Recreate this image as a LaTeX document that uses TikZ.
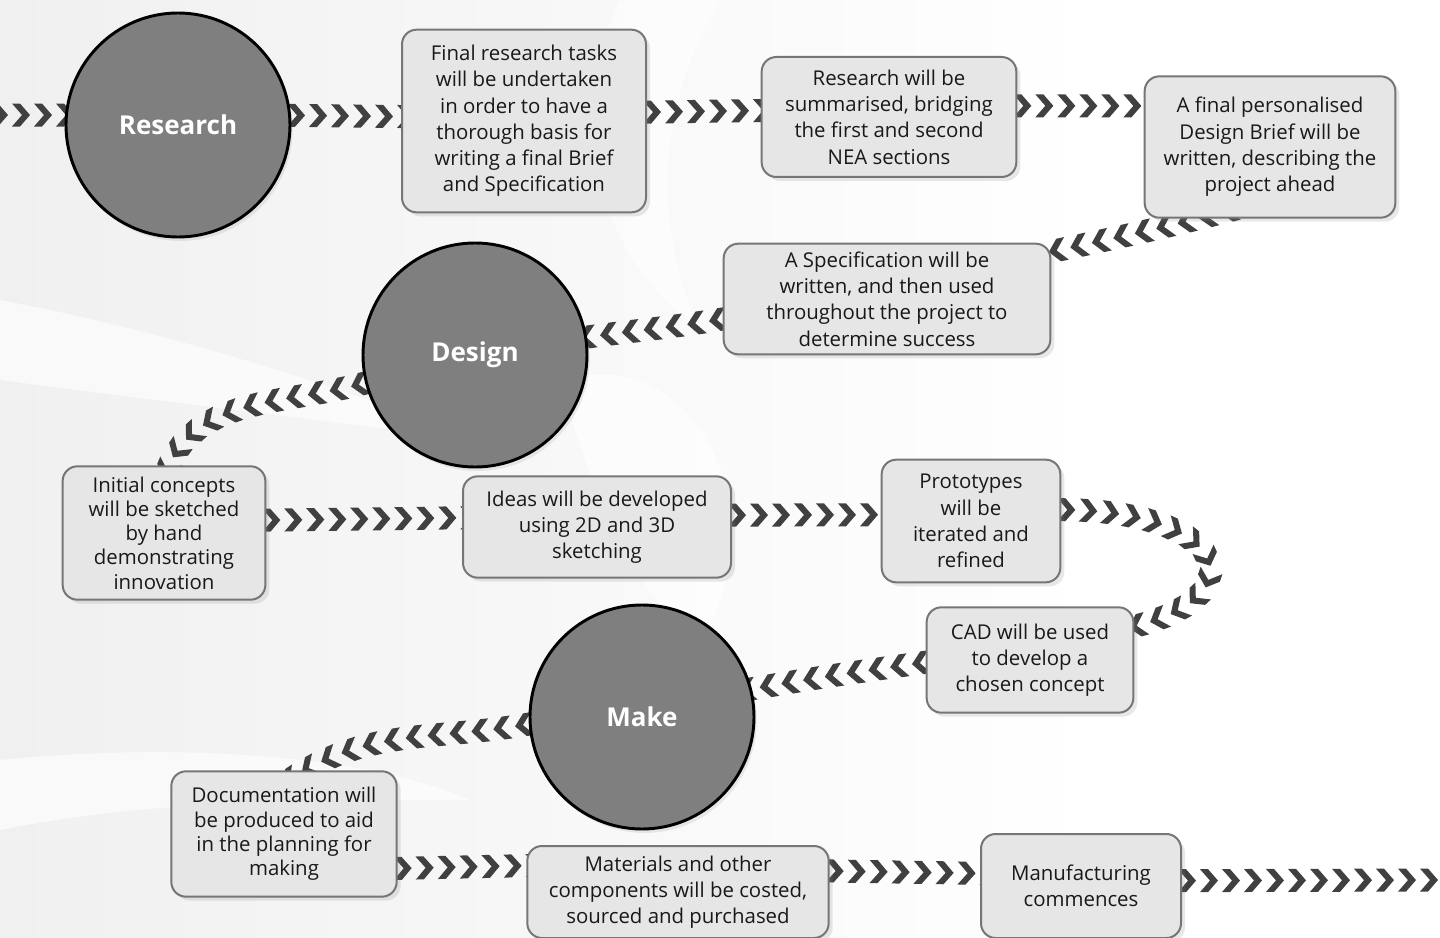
\documentclass[tikz,border=0pt]{standalone}
\usepackage{fontspec}
\setmainfont{Open Sans}
\usepackage{tikz}
\usetikzlibrary{positioning}
\usetikzlibrary{shadows}
\usetikzlibrary{decorations.markings}
\definecolor{stageColor}{RGB}{127,127,127}
\definecolor{taskColor}{RGB}{230,230,230}
\definecolor{taskLine}{RGB}{118,118,118}
\definecolor{chevColor}{RGB}{64,64,64}
\definecolor{shadeColor}{RGB}{240,240,240}
\pgfdeclarelayer{back}
\pgfdeclarelayer{chev}
\pgfsetlayers{back,chev,main}

\begin{document}
\begin{tikzpicture}[x=0.75pt,y=-0.75pt]

          \tikzstyle{stageNode} = [circle, minimum size=168pt, inner sep=0pt, fill=stageColor, draw=black, line width=2.2pt, text=white, font=\fontsize{19.5}{24}\selectfont\bfseries, drop shadow={opacity=0.15, shadow xshift=2pt, shadow yshift=-3pt}];
          \tikzstyle{taskNode} = [rectangle, rounded corners=11pt, fill=taskColor, draw=taskLine, line width=1.5pt, align=center, text=black!90, font=\fontsize{15.3}{19.7}\selectfont, inner sep=1pt, drop shadow={opacity=0.18, shadow xshift=3pt, shadow yshift=-3pt}];
          \tikzstyle{tightNode} = [font=\fontsize{15.3}{18.2}\selectfont];
          \tikzstyle{chevEdge} = [decorate, decoration={markings, mark=between positions 0 and 1 step 16.5pt with {\fill[chevColor] (-10,11.5) -- (0,0) -- (-10,-11.5) -- (-2,-11.5) -- (8,0) -- (-2,11.5) -- cycle;}}];

          \useasboundingbox (0,0) rectangle (1440,938);
          \begin{pgfonlayer}{back}
            \shade[left color=shadeColor, right color=white] (0,0) rectangle (1100,938);
            \fill[white] (1100,0) rectangle (1440,938);
            \fill[white, opacity=0.6] (0,300) .. controls (160,330) and (320,380) .. (480,440) .. controls (320,420) and (150,400) .. (0,380) -- cycle;
            \fill[white, opacity=0.6] (560,380) .. controls (700,340) and (780,520) .. (700,640) .. controls (640,600) and (600,520) .. cycle;
            \fill[white, opacity=0.6] (0,760) .. controls (200,740) and (380,760) .. (470,800) .. controls (300,800) and (150,800) .. (0,830) -- cycle;
            \fill[white, opacity=0.5] (620,0) .. controls (560,120) and (600,260) .. (700,330) .. controls (650,220) and (660,100) .. (720,0) -- cycle;
          \end{pgfonlayer}

          % stages
          \node[stageNode] (research) at (178,125) {Research};
          \node[stageNode] (design) at (475,355) {Design};
          \node[stageNode] (make) at (642,717) {Make};

          % tasks
          \node[taskNode, minimum width=183pt, minimum height=137pt] (finalTasks) at (524,121) {Final research tasks\\will be undertaken\\in order to have a\\thorough basis for\\writing a final Brief\\and Specification};
          \node[taskNode, minimum width=191pt, minimum height=90pt] (summary) at (889,117) {Research will be\\summarised, bridging\\the first and second\\NEA sections};
          \node[taskNode, minimum width=188pt, minimum height=106pt] (brief) at (1270,147) {A final personalised\\Design Brief will be\\written, describing the\\project ahead};
          \node[taskNode, minimum width=245pt, minimum height=83pt] (spec) at (887,299) {A Specification will be\\written, and then used\\throughout the project to\\determine success};
          \node[taskNode, tightNode, minimum width=152pt, minimum height=100pt] (concepts) at (164,533) {Initial concepts\\will be sketched\\by hand\\demonstrating\\innovation};
          \node[taskNode, minimum width=201pt, minimum height=76pt] (ideas) at (597,527) {Ideas will be developed\\using 2D and 3D\\sketching};
          \node[taskNode, minimum width=134pt, minimum height=92pt] (protos) at (971,521) {Prototypes\\will be\\iterated and\\refined};
          \node[taskNode, minimum width=155pt, minimum height=79pt] (cad) at (1030,660) {CAD will be used\\to develop a\\chosen concept};
          \node[taskNode, tightNode, minimum width=169pt, minimum height=94pt] (docs) at (284,834) {Documentation will\\be produced to aid\\in the planning for\\making};
          \node[taskNode, minimum width=226pt, minimum height=69pt] (materials) at (678,892) {Materials and other\\components will be costed,\\sourced and purchased};
          \node[taskNode, minimum width=150pt, minimum height=78pt] (manuf) at (1081,886) {Manufacturing\\commences};

          \coordinate (start) at (0,115);
          \coordinate (finish) at (1440,880);

          % chevron trail
          \begin{pgfonlayer}{chev}
            \path[chevEdge] (start) -- ([xshift=12pt]research.175);
            \path[chevEdge] ([xshift=-12pt]research.5) -- ([xshift=12pt]finalTasks.178);
            \path[chevEdge] ([xshift=-12pt]finalTasks.4) -- ([xshift=12pt]summary.177);
            \path[chevEdge] ([xshift=-12pt]summary.5) -- ([xshift=12pt]brief.162);
            \path[chevEdge] ([yshift=10pt]brief.254) to[out=195,in=12] ([xshift=-12pt]spec.15);
            \path[chevEdge] ([xshift=12pt]spec.186) to[out=190,in=8] ([xshift=-12pt]design.8);
            \path[chevEdge] ([xshift=12pt]design.192) to[out=198,in=72] ([yshift=-10pt]concepts.north);
            \path[chevEdge] ([xshift=-12pt]concepts.7) -- ([xshift=12pt]ideas.176);
            \path[chevEdge] ([xshift=-12pt]ideas.5) -- ([xshift=12pt]protos.176);
            \path[chevEdge] ([xshift=-12pt]protos.7) .. controls (1230,505) and (1265,600) .. ([xshift=-10pt,yshift=-4pt]cad.19);
            \path[chevEdge] ([xshift=12pt]cad.west) to[out=188,in=10] ([xshift=-12pt]make.13);
            \path[chevEdge] ([xshift=12pt]make.182) to[out=192,in=35] ([yshift=-10pt]docs.north);
            \path[chevEdge] ([xshift=-12pt]docs.-17) -- ([xshift=12pt]materials.170);
            \path[chevEdge] ([xshift=-12pt]materials.8) -- ([xshift=12pt]manuf.173);
            \path[chevEdge] ([xshift=-12pt]manuf.3) -- (finish);
          \end{pgfonlayer}
        \end{tikzpicture}
\end{document}
